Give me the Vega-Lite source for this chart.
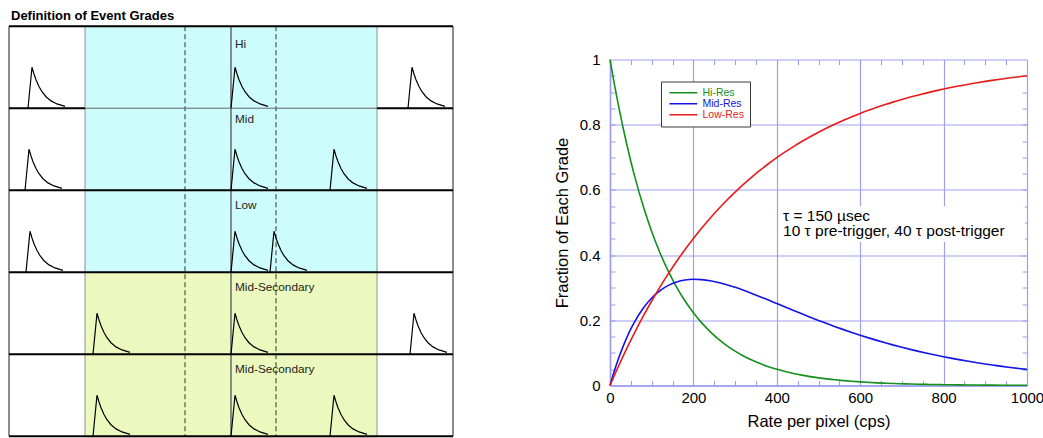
{
  "$schema": "https://vega.github.io/schema/vega-lite/v6.json",
  "padding": {"left": 8, "top": 9.5, "right": 0, "bottom": 0},
  "spacing": 100,
  "config": {"view": {"stroke": null}, "font": "Liberation Sans"},
  "resolve": {"scale": {"color": "independent", "x": "independent", "y": "independent"}, "legend": {"color": "independent"}},
  "hconcat": [
    {
      "title": {"text": "Definition of  Event Grades", "anchor": "start", "font": "Liberation Sans", "fontSize": 13, "fontWeight": "bold", "color": "black", "dx": 3, "offset": 2},
      "width": 444,
      "height": 378,
      "encoding": {
        "x": {"field": "x", "type": "quantitative", "scale": {"domain": [-222, 222], "nice": false, "zero": false}, "axis": null},
        "y": {"field": "y", "type": "quantitative", "scale": {"domain": [0.406, 5.016], "nice": false, "zero": false, "reverse": true}, "axis": null}
      },
      "layer": [
        {
          "data": {"values": [
            {"region": "event window", "x": -146, "x2": 146, "y": 0, "y2": 3},
            {"region": "secondary window", "x": -146, "x2": 146, "y": 3, "y2": 5},
            {"region": "next", "x": -146, "x2": 146, "y": 5, "y2": 5.016}
          ]},
          "mark": {"type": "rect"},
          "encoding": {
            "x2": {"field": "x2"},
            "y2": {"field": "y2"},
            "color": {"field": "region", "type": "nominal", "scale": {"domain": ["event window", "secondary window", "next"], "range": ["#ccfcfc", "#ebf9bf", "#f8c8c0"]}, "legend": null}
          }
        },
        {
          "data": {"values": [
            {"x": -146, "y": 0, "y2": 5},
            {"x": 146, "y": 0, "y2": 5}
          ]},
          "mark": {"type": "rule", "color": "#777777", "strokeWidth": 0.8},
          "encoding": {"y2": {"field": "y2"}}
        },
        {
          "data": {"values": [
            {"x": -222, "y": 0, "y2": 5},
            {"x": 222, "y": 0, "y2": 5}
          ]},
          "mark": {"type": "rule", "color": "#8c8c8c", "strokeWidth": 2},
          "encoding": {"y2": {"field": "y2"}}
        },
        {
          "data": {"values": [{"x": 0, "y": 0, "y2": 5}]},
          "mark": {"type": "rule", "color": "#707070", "strokeWidth": 1.6},
          "encoding": {"y2": {"field": "y2"}}
        },
        {
          "data": {"values": [
            {"x": -46, "y": 0, "y2": 5},
            {"x": 45, "y": 0, "y2": 5}
          ]},
          "mark": {"type": "rule", "color": "#333333", "strokeWidth": 1, "strokeDash": [5, 3]},
          "encoding": {"y2": {"field": "y2"}}
        },
        {
          "data": {"values": [{"x": -146, "x2": 146, "y": 1}]},
          "mark": {"type": "rule", "color": "#666666", "strokeWidth": 1},
          "encoding": {"x2": {"field": "x2"}}
        },
        {
          "data": {"values": [
            {"x": -222, "x2": 222, "y": 0},
            {"x": -222, "x2": -146, "y": 1},
            {"x": 146, "x2": 222, "y": 1},
            {"x": -222, "x2": 222, "y": 2},
            {"x": -222, "x2": 222, "y": 3},
            {"x": -222, "x2": 222, "y": 4},
            {"x": -222, "x2": 222, "y": 5}
          ]},
          "mark": {"type": "rule", "color": "black", "strokeWidth": 2},
          "encoding": {"x2": {"field": "x2"}}
        },
        {
          "data": {"values": [
            {"p": 1, "x": [-203, -199, -197, -195, -192, -189, -185, -180, -174, -166], "y": [1, 0.5, 0.583, 0.652, 0.735, 0.799, 0.86, 0.911, 0.948, 0.978]},
            {"p": 2, "x": [0, 4, 6, 8, 11, 14, 18, 23, 29, 37], "y": [1, 0.5, 0.583, 0.652, 0.735, 0.799, 0.86, 0.911, 0.948, 0.978]},
            {"p": 3, "x": [177, 181, 183, 185, 188, 191, 195, 200, 206, 214], "y": [1, 0.5, 0.583, 0.652, 0.735, 0.799, 0.86, 0.911, 0.948, 0.978]},
            {"p": 4, "x": [-206, -202, -200, -198, -195, -192, -188, -183, -177, -169], "y": [2, 1.5, 1.583, 1.652, 1.735, 1.799, 1.86, 1.911, 1.948, 1.978]},
            {"p": 5, "x": [0, 4, 6, 8, 11, 14, 18, 23, 29, 37], "y": [2, 1.5, 1.583, 1.652, 1.735, 1.799, 1.86, 1.911, 1.948, 1.978]},
            {"p": 6, "x": [99, 103, 105, 107, 110, 113, 117, 122, 128, 136], "y": [2, 1.5, 1.583, 1.652, 1.735, 1.799, 1.86, 1.911, 1.948, 1.978]},
            {"p": 7, "x": [-205, -201, -199, -197, -194, -191, -187, -182, -176, -168], "y": [3, 2.5, 2.583, 2.652, 2.735, 2.799, 2.86, 2.911, 2.948, 2.978]},
            {"p": 8, "x": [0, 4, 6, 8, 11, 14, 18, 23, 29, 37], "y": [3, 2.5, 2.583, 2.652, 2.735, 2.799, 2.86, 2.911, 2.948, 2.978]},
            {"p": 9, "x": [39, 43, 45, 47, 50, 53, 57, 62, 68, 76], "y": [3, 2.5, 2.583, 2.652, 2.735, 2.799, 2.86, 2.911, 2.948, 2.978]},
            {"p": 10, "x": [-138, -134, -132, -130, -127, -124, -120, -115, -109, -101], "y": [4, 3.5, 3.583, 3.652, 3.735, 3.799, 3.86, 3.911, 3.948, 3.978]},
            {"p": 11, "x": [0, 4, 6, 8, 11, 14, 18, 23, 29, 37], "y": [4, 3.5, 3.583, 3.652, 3.735, 3.799, 3.86, 3.911, 3.948, 3.978]},
            {"p": 12, "x": [179, 183, 185, 187, 190, 193, 197, 202, 208, 216], "y": [4, 3.5, 3.583, 3.652, 3.735, 3.799, 3.86, 3.911, 3.948, 3.978]},
            {"p": 13, "x": [-138, -134, -132, -130, -127, -124, -120, -115, -109, -101], "y": [5, 4.5, 4.583, 4.652, 4.735, 4.799, 4.86, 4.911, 4.948, 4.978]},
            {"p": 14, "x": [0, 4, 6, 8, 11, 14, 18, 23, 29, 37], "y": [5, 4.5, 4.583, 4.652, 4.735, 4.799, 4.86, 4.911, 4.948, 4.978]},
            {"p": 15, "x": [99, 103, 105, 107, 110, 113, 117, 122, 128, 136], "y": [5, 4.5, 4.583, 4.652, 4.735, 4.799, 4.86, 4.911, 4.948, 4.978]}
          ]},
          "transform": [{"flatten": ["x", "y"]}],
          "mark": {"type": "line", "color": "black", "strokeWidth": 1.2},
          "encoding": {"detail": {"field": "p", "type": "nominal"}}
        },
        {
          "data": {"values": [
            {"x": 4, "y": 0.263, "label": "Hi"},
            {"x": 4, "y": 1.178, "label": "Mid"},
            {"x": 4, "y": 2.227, "label": "Low"},
            {"x": 4, "y": 3.232, "label": "Mid-Secondary"},
            {"x": 4, "y": 4.227, "label": "Mid-Secondary"}
          ]},
          "mark": {"type": "text", "align": "left", "baseline": "alphabetic", "font": "Liberation Sans", "fontSize": 11.8, "color": "#222222"},
          "encoding": {"text": {"field": "label"}}
        }
      ]
    },
    {
      "width": 417,
      "height": 326,
      "resolve": {"axis": {"x": "independent", "y": "independent"}},
      "layer": [
        {
          "data": {"values": [{"x": 405, "x2": 995, "y": 0.44, "y2": 0.55}]},
          "mark": {"type": "rect", "color": "white"},
          "encoding": {
            "x": {"field": "x", "type": "quantitative", "scale": {"domain": [0, 1000], "nice": false, "zero": false},
                  "axis": {"orient": "top", "values": [50, 100, 150, 200, 250, 300, 350, 400, 450, 500, 550, 600, 650, 700, 750, 800, 850, 900, 950], "labels": false, "domain": false, "grid": false, "ticks": true, "tickSize": -5, "tickColor": "#9a9aee", "tickWidth": 1, "title": null}},
            "x2": {"field": "x2"},
            "y": {"field": "y", "type": "quantitative", "scale": {"domain": [0, 1], "nice": false, "zero": false},
                  "axis": {"orient": "right", "values": [0.05, 0.1, 0.15, 0.2, 0.25, 0.3, 0.35, 0.4, 0.45, 0.5, 0.55, 0.6, 0.65, 0.7, 0.75, 0.8, 0.85, 0.9, 0.95], "labels": false, "domain": false, "grid": false, "ticks": true, "tickSize": -5, "tickColor": "#9a9aee", "tickWidth": 1, "title": null}},
            "y2": {"field": "y2"}
          }
        },
        {
          "data": {"values": [
            {"rate": 0, "Hi-Res": 1, "Mid-Res": 0, "Low-Res": 0},
            {"rate": 10, "Hi-Res": 0.9277, "Mid-Res": 0.0427, "Low-Res": 0.0296},
            {"rate": 20, "Hi-Res": 0.8607, "Mid-Res": 0.0811, "Low-Res": 0.0582},
            {"rate": 30, "Hi-Res": 0.7985, "Mid-Res": 0.1154, "Low-Res": 0.0861},
            {"rate": 40, "Hi-Res": 0.7408, "Mid-Res": 0.1461, "Low-Res": 0.1131},
            {"rate": 50, "Hi-Res": 0.6873, "Mid-Res": 0.1734, "Low-Res": 0.1393},
            {"rate": 60, "Hi-Res": 0.6376, "Mid-Res": 0.1976, "Low-Res": 0.1647},
            {"rate": 80, "Hi-Res": 0.5488, "Mid-Res": 0.2378, "Low-Res": 0.2134},
            {"rate": 100, "Hi-Res": 0.4724, "Mid-Res": 0.2685, "Low-Res": 0.2592},
            {"rate": 120, "Hi-Res": 0.4066, "Mid-Res": 0.2911, "Low-Res": 0.3023},
            {"rate": 140, "Hi-Res": 0.3499, "Mid-Res": 0.3071, "Low-Res": 0.343},
            {"rate": 160, "Hi-Res": 0.3012, "Mid-Res": 0.3176, "Low-Res": 0.3812},
            {"rate": 180, "Hi-Res": 0.2592, "Mid-Res": 0.3235, "Low-Res": 0.4173},
            {"rate": 200, "Hi-Res": 0.2231, "Mid-Res": 0.3257, "Low-Res": 0.4512},
            {"rate": 220, "Hi-Res": 0.1921, "Mid-Res": 0.3248, "Low-Res": 0.4832},
            {"rate": 240, "Hi-Res": 0.1653, "Mid-Res": 0.3215, "Low-Res": 0.5133},
            {"rate": 260, "Hi-Res": 0.1423, "Mid-Res": 0.3161, "Low-Res": 0.5416},
            {"rate": 280, "Hi-Res": 0.1225, "Mid-Res": 0.3093, "Low-Res": 0.5683},
            {"rate": 300, "Hi-Res": 0.1054, "Mid-Res": 0.3012, "Low-Res": 0.5934},
            {"rate": 320, "Hi-Res": 0.0907, "Mid-Res": 0.2922, "Low-Res": 0.6171},
            {"rate": 340, "Hi-Res": 0.0781, "Mid-Res": 0.2825, "Low-Res": 0.6394},
            {"rate": 360, "Hi-Res": 0.0672, "Mid-Res": 0.2724, "Low-Res": 0.6604},
            {"rate": 380, "Hi-Res": 0.0578, "Mid-Res": 0.262, "Low-Res": 0.6802},
            {"rate": 400, "Hi-Res": 0.0498, "Mid-Res": 0.2514, "Low-Res": 0.6988},
            {"rate": 420, "Hi-Res": 0.0429, "Mid-Res": 0.2408, "Low-Res": 0.7164},
            {"rate": 440, "Hi-Res": 0.0369, "Mid-Res": 0.2303, "Low-Res": 0.7329},
            {"rate": 460, "Hi-Res": 0.0318, "Mid-Res": 0.2198, "Low-Res": 0.7484},
            {"rate": 480, "Hi-Res": 0.0273, "Mid-Res": 0.2096, "Low-Res": 0.7631},
            {"rate": 500, "Hi-Res": 0.0235, "Mid-Res": 0.1996, "Low-Res": 0.7769},
            {"rate": 520, "Hi-Res": 0.0202, "Mid-Res": 0.1899, "Low-Res": 0.7899},
            {"rate": 540, "Hi-Res": 0.0174, "Mid-Res": 0.1805, "Low-Res": 0.8021},
            {"rate": 560, "Hi-Res": 0.015, "Mid-Res": 0.1714, "Low-Res": 0.8136},
            {"rate": 580, "Hi-Res": 0.0129, "Mid-Res": 0.1626, "Low-Res": 0.8245},
            {"rate": 600, "Hi-Res": 0.0111, "Mid-Res": 0.1542, "Low-Res": 0.8347},
            {"rate": 620, "Hi-Res": 0.0096, "Mid-Res": 0.1461, "Low-Res": 0.8443},
            {"rate": 640, "Hi-Res": 0.0082, "Mid-Res": 0.1384, "Low-Res": 0.8534},
            {"rate": 660, "Hi-Res": 0.0071, "Mid-Res": 0.131, "Low-Res": 0.8619},
            {"rate": 680, "Hi-Res": 0.0061, "Mid-Res": 0.1239, "Low-Res": 0.87},
            {"rate": 700, "Hi-Res": 0.0053, "Mid-Res": 0.1172, "Low-Res": 0.8775},
            {"rate": 720, "Hi-Res": 0.0045, "Mid-Res": 0.1108, "Low-Res": 0.8847},
            {"rate": 740, "Hi-Res": 0.0039, "Mid-Res": 0.1047, "Low-Res": 0.8914},
            {"rate": 760, "Hi-Res": 0.0034, "Mid-Res": 0.0989, "Low-Res": 0.8977},
            {"rate": 780, "Hi-Res": 0.0029, "Mid-Res": 0.0934, "Low-Res": 0.9037},
            {"rate": 800, "Hi-Res": 0.0025, "Mid-Res": 0.0882, "Low-Res": 0.9093},
            {"rate": 820, "Hi-Res": 0.0021, "Mid-Res": 0.0833, "Low-Res": 0.9146},
            {"rate": 840, "Hi-Res": 0.0018, "Mid-Res": 0.0786, "Low-Res": 0.9195},
            {"rate": 860, "Hi-Res": 0.0016, "Mid-Res": 0.0742, "Low-Res": 0.9242},
            {"rate": 880, "Hi-Res": 0.0014, "Mid-Res": 0.07, "Low-Res": 0.9286},
            {"rate": 900, "Hi-Res": 0.0012, "Mid-Res": 0.066, "Low-Res": 0.9328},
            {"rate": 920, "Hi-Res": 0.001, "Mid-Res": 0.0623, "Low-Res": 0.9367},
            {"rate": 940, "Hi-Res": 0.0009, "Mid-Res": 0.0587, "Low-Res": 0.9404},
            {"rate": 960, "Hi-Res": 0.0008, "Mid-Res": 0.0554, "Low-Res": 0.9439},
            {"rate": 980, "Hi-Res": 0.0006, "Mid-Res": 0.0522, "Low-Res": 0.9471},
            {"rate": 1000, "Hi-Res": 0.0006, "Mid-Res": 0.0492, "Low-Res": 0.9502}
          ]},
          "transform": [{"fold": ["Hi-Res", "Mid-Res", "Low-Res"], "as": ["grade", "fraction"]}],
          "mark": {"type": "line", "strokeWidth": 1.6, "interpolate": "monotone"},
          "encoding": {
            "x": {"field": "rate", "type": "quantitative", "scale": {"domain": [0, 1000], "nice": false, "zero": false},
                  "axis": {"orient": "bottom", "values": [0, 200, 400, 600, 800, 1000], "format": "d", "grid": true, "gridColor": "#a0a0f0", "gridWidth": 1.2, "gridOpacity": 1, "domain": true, "domainColor": "#9a9aee", "domainWidth": 1.5, "ticks": false, "tickSize": 0, "labelFontSize": 15, "labelColor": "black", "labelPadding": 5, "labelFlush": false, "labelFont": "Liberation Sans", "title": "Rate per pixel (cps)", "titleFont": "Liberation Sans", "titleFontSize": 16.5, "titleFontWeight": "normal", "titleColor": "black", "titlePadding": 8}},
            "y": {"field": "fraction", "type": "quantitative", "scale": {"domain": [0, 1], "nice": false, "zero": false},
                  "axis": {"orient": "left", "values": [0, 0.2, 0.4, 0.6, 0.8, 1], "format": "~g", "grid": true, "gridColor": "#a0a0f0", "gridWidth": 1.2, "gridOpacity": 1, "domain": true, "domainColor": "#9a9aee", "domainWidth": 1.5, "ticks": false, "tickSize": 0, "labelFontSize": 15, "labelColor": "black", "labelPadding": 10, "labelFlush": false, "labelFont": "Liberation Sans", "title": "Fraction of Each Grade", "titleFont": "Liberation Sans", "titleFontSize": 16.5, "titleFontWeight": "normal", "titleColor": "black", "titlePadding": 9}},
            "color": {"field": "grade", "type": "nominal",
                      "scale": {"domain": ["Hi-Res", "Mid-Res", "Low-Res"], "range": ["#13901b", "#1414e6", "#e81a1a"]},
                      "legend": {"orient": "none", "legendX": 51, "legendY": 22, "title": null, "fillColor": "white", "strokeColor": "#3a3a3a", "padding": 6, "symbolType": "M-1,0H9", "symbolSize": 31, "symbolStrokeWidth": 1.5, "labelFont": "Liberation Sans", "labelFontSize": 10.5, "labelOffset": 25, "rowPadding": 0, "cornerRadius": 0,
                                 "labelColor": {"expr": "datum.value == 'Hi-Res' ? '#13901b' : datum.value == 'Mid-Res' ? '#1414e6' : '#e81a1a'"}}}
          }
        },
        {
          "data": {"values": [
            {"x": 415, "y": 0.52, "note": "τ = 150  µsec"},
            {"x": 415, "y": 0.474, "note": "10 τ pre-trigger, 40 τ post-trigger"}
          ]},
          "mark": {"type": "text", "align": "left", "baseline": "middle", "font": "Liberation Sans", "fontSize": 15.5, "color": "black"},
          "encoding": {
            "x": {"field": "x", "type": "quantitative", "scale": {"domain": [0, 1000], "nice": false, "zero": false},
                  "axis": {"orient": "bottom", "values": [50, 100, 150, 200, 250, 300, 350, 400, 450, 500, 550, 600, 650, 700, 750, 800, 850, 900, 950], "labels": false, "domain": false, "grid": false, "ticks": true, "tickSize": -5, "tickColor": "#9a9aee", "tickWidth": 1, "title": null}},
            "y": {"field": "y", "type": "quantitative", "scale": {"domain": [0, 1], "nice": false, "zero": false},
                  "axis": {"orient": "left", "values": [0.05, 0.1, 0.15, 0.2, 0.25, 0.3, 0.35, 0.4, 0.45, 0.5, 0.55, 0.6, 0.65, 0.7, 0.75, 0.8, 0.85, 0.9, 0.95], "labels": false, "domain": false, "grid": false, "ticks": true, "tickSize": -5, "tickColor": "#9a9aee", "tickWidth": 1, "title": null}},
            "text": {"field": "note"}
          }
        }
      ]
    }
  ]
}
